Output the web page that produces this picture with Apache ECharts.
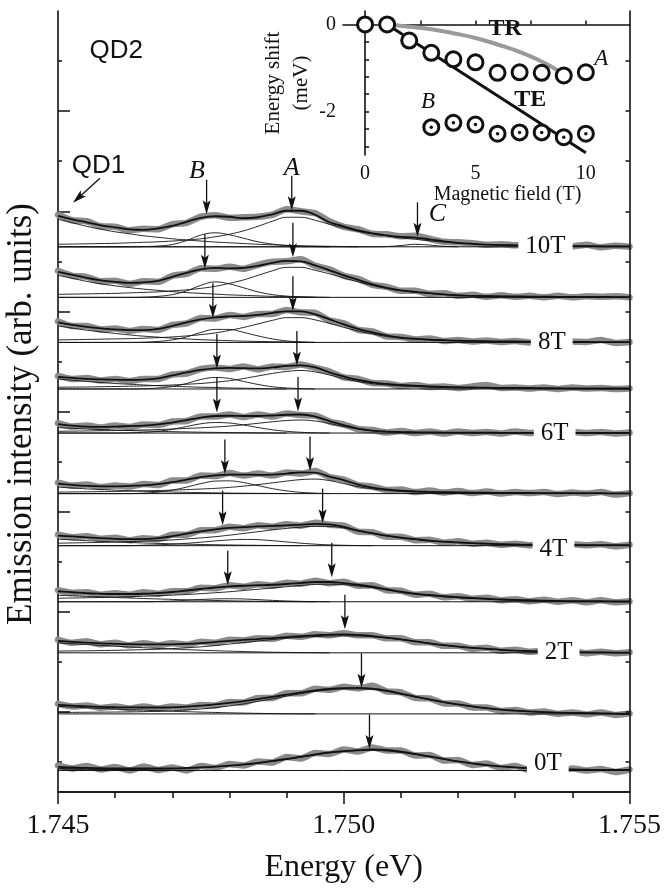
<!DOCTYPE html>
<html>
<head>
<meta charset="utf-8">
<script src="https://cdn.jsdelivr.net/npm/echarts@6/dist/echarts.min.js"></script>
<style>
html, body { margin: 0; padding: 0; background: #fff; }
#chart { width: 664px; height: 889px; }
</style>
</head>
<body>
<div id="chart"></div>
<script>
// Sampling grid of the spectra (eV), 0.25 meV steps
const energies = [1.74500,1.74525,1.74550,1.74575,1.74600,1.74625,1.74650,1.74675,1.74700,1.74725,
  1.74750,1.74775,1.74800,1.74825,1.74850,1.74875,1.74900,1.74925,1.74950,1.74975,
  1.75000,1.75025,1.75050,1.75075,1.75100,1.75125,1.75150,1.75175,1.75200,1.75225,
  1.75250,1.75275,1.75300,1.75325,1.75350,1.75375,1.75400,1.75425,1.75450,1.75475,1.75500];

// Magnetic fields, top to bottom, and the vertical offset of each trace (arb. units)
const fields = ['10T','9T','8T','7T','6T','5T','4T','3T','2T','1T','0T'];
const baselines = [108.9, 98.8, 89.8, 80.5, 71.7, 59.6, 49.2, 38.0, 27.8, 15.6, 4.3];

// ---- 10 T ----
const meas10 = [6.4,5.3,5.1,4.1,4.0,3.3,3.6,3.5,4.5,4.8,6.0,6.3,5.8,5.9,6.0,6.4,7.5,7.1,6.7,5.1,4.0,3.5,2.6,2.5,2.1,2.2,1.6,1.0,0.9,0.7,0.4,0.5,0.3,0.4,0.1,0.3,0.1,0.4,-0.1,0.2,0.0];
const fit10 = [6.2,5.5,4.9,4.3,3.9,3.5,3.4,3.7,4.2,5.0,5.8,6.1,6.0,5.7,5.9,6.5,7.2,7.2,6.4,4.9,4.1,3.3,2.7,2.3,2.0,1.85,1.5,1.1,0.8,0.6,0.45,0.35,0.3,0.25,0.2,0.2,0.15,0.15,0.1,0.1,0.1];
const qd1_10 = [5.5,4.8,4.1,3.5,3.0,2.6,2.2,1.9,1.6,1.35,1.15,0.95,0.8,0.65,0.5,0.4,0.3,0.2,0.15,0.1,0.05,0];
const compB10 = [0,0,0,0,0,0,0.05,0.15,0.45,1.25,2.35,2.8,2.4,1.7,1.0,0.55,0.25,0.1,0.05,0];
const compA10 = [0.5,0.55,0.6,0.65,0.7,0.8,0.9,1.0,1.15,1.35,1.6,2.0,2.5,3.2,4.1,5.1,5.9,5.9,5.3,4.5,3.8,3.1,2.6,2.2,1.8,1.5,1.2,0.95,0.75,0.6,0.45,0.35,0.3,0.25,0.2,0.18,0.15,0.12,0.1,0.1,0.1];
const compC10 = [0,0,0,0,0,0,0,0,0,0,0,0,0,0,0,0,0,0,0,0,0,0,0,0.05,0.25,0.5,0.35,0.1,0];

// ---- 9 T ----
const meas9 = [5.3,4.3,4.1,3.2,3.3,2.7,3.2,3.1,4.3,4.7,5.8,5.7,6.1,5.7,6.5,7.1,7.2,7.6,6.3,5.6,4.3,3.7,2.5,2.1,1.3,1.3,0.7,0.8,0.3,0.5,0.1,0.4,0.1,0.3,0.0,0.3,0.0,0.2,0.1,0.2,0.0];
const fit9 = [5.1,4.5,3.9,3.4,3.1,2.9,3.0,3.3,4.1,4.9,5.6,5.9,5.8,5.9,6.3,6.9,7.3,7.2,6.4,5.4,4.4,3.5,2.6,1.9,1.4,1.1,0.85,0.6,0.4,0.3,0.25,0.2,0.2,0.15,0.15,0.1,0.1,0.1,0.1,0.05,0.05];
const qd1_9 = [4.4,3.8,3.2,2.7,2.3,1.95,1.65,1.4,1.15,0.95,0.8,0.65,0.5,0.4,0.3,0.2,0.15,0.1,0.05,0];
const compB9 = [0,0,0,0,0,0,0.05,0.2,0.55,1.3,2.4,3.1,2.7,1.9,1.1,0.55,0.25,0.1,0];
const compA9 = [0.6,0.65,0.7,0.75,0.8,0.9,1.0,1.1,1.3,1.5,1.8,2.2,2.8,3.5,4.4,5.3,6.0,6.0,5.4,4.7,3.9,3.1,2.4,1.8,1.35,1.05,0.8,0.6,0.45,0.35,0.28,0.22,0.18,0.15,0.12,0.1,0.08,0.07,0.06,0.05,0.05];

// ---- 8 T ----
const meas8 = [4.2,3.3,3.3,2.6,2.8,2.3,2.7,2.5,3.5,3.8,4.9,4.8,5.5,5.1,5.7,5.7,6.5,6.0,5.9,4.4,3.8,2.5,2.2,1.2,1.1,0.6,0.8,0.3,0.5,0.2,0.4,0.1,0.3,0.0,0.4,0.0,0.2,0.1,0.5,-0.1,0.1];
const fit8 = [4.0,3.5,3.1,2.8,2.6,2.45,2.45,2.7,3.3,4.0,4.6,5.0,5.2,5.3,5.5,5.9,6.2,6.2,5.6,4.6,3.6,2.7,2.0,1.4,0.95,0.75,0.55,0.45,0.35,0.3,0.25,0.2,0.2,0.15,0.15,0.1,0.1,0.1,0.05,0.05,0.05];
const qd1_8 = [3.3,2.85,2.45,2.1,1.8,1.5,1.25,1.05,0.85,0.7,0.55,0.45,0.35,0.25,0.2,0.15,0.1,0.05,0];
const compB8 = [0,0,0,0,0,0,0.05,0.2,0.5,1.1,2.0,2.6,2.6,2.0,1.3,0.7,0.3,0.1,0];
const compA8 = [0.5,0.55,0.6,0.65,0.7,0.75,0.85,0.95,1.1,1.3,1.55,1.9,2.4,3.0,3.7,4.4,4.95,4.95,4.5,3.8,3.0,2.3,1.7,1.2,0.85,0.65,0.5,0.4,0.3,0.25,0.2,0.17,0.14,0.12,0.1,0.08,0.07,0.06,0.05,0.05,0.05];

// ---- 7 T ----
const meas7 = [2.6,2.0,2.2,1.7,2.0,1.6,2.0,2.0,2.9,3.1,4.0,4.3,4.0,4.5,3.9,4.5,4.4,4.9,4.2,3.5,2.3,2.0,1.2,1.1,0.6,0.8,0.4,0.5,0.2,0.5,0.8,0.2,0.3,0.1,0.3,0.0,0.3,0.1,0.2,0.0,0.1];
const fit7 = [2.4,2.2,2.0,1.9,1.85,1.8,1.85,2.1,2.7,3.3,3.8,4.1,4.2,4.15,4.1,4.3,4.6,4.7,4.3,3.3,2.5,1.8,1.3,1.0,0.8,0.65,0.5,0.4,0.35,0.3,0.25,0.2,0.2,0.2,0.15,0.15,0.1,0.1,0.1,0.1,0.1];
const qd1_7 = [2.0,1.75,1.5,1.3,1.1,0.95,0.8,0.65,0.55,0.45,0.35,0.3,0.2,0.15,0.1,0.05,0];
const compB7 = [0,0,0,0,0,0,0.05,0.2,0.5,1.1,1.9,2.3,2.1,1.5,0.9,0.45,0.2,0.08,0];
const compA7 = [0.35,0.38,0.4,0.45,0.5,0.55,0.6,0.7,0.8,0.95,1.1,1.35,1.65,2.1,2.6,3.1,3.5,3.7,3.4,2.8,2.1,1.5,1.05,0.8,0.6,0.5,0.4,0.32,0.27,0.23,0.2,0.17,0.15,0.13,0.12,0.1,0.1,0.08,0.08,0.07,0.07];

// ---- 6 T ----
const meas6 = [2.0,1.3,1.5,1.1,1.5,1.2,1.7,1.6,2.3,2.4,3.3,3.3,3.7,3.2,3.7,3.3,3.9,3.6,3.5,2.3,1.7,0.8,0.6,0.1,0.4,0.0,0.3,-0.1,0.3,0.0,0.2,-0.1,0.3,0.0,0.2,-0.2,0.2,0.0,0.2,-0.1,0.1];
const fit6 = [1.8,1.5,1.3,1.25,1.3,1.4,1.5,1.75,2.1,2.6,3.1,3.4,3.45,3.4,3.4,3.5,3.65,3.7,3.3,2.4,1.6,0.9,0.5,0.3,0.2,0.15,0.12,0.1,0.1,0.08,0.08,0.05,0.05,0.05,0.05,0.05,0.05,0.05,0.05,0.05,0.05];
const qd1_6 = [1.1,0.95,0.8,0.7,0.6,0.5,0.42,0.35,0.28,0.22,0.17,0.13,0.1,0.07,0.04,0.02,0];
const compB6 = [0,0,0,0,0,0.05,0.15,0.35,0.75,1.3,1.85,2.1,2.0,1.6,1.1,0.65,0.35,0.15,0.05,0];
const compA6 = [0.35,0.38,0.42,0.46,0.5,0.55,0.62,0.7,0.8,0.92,1.05,1.2,1.4,1.65,1.95,2.25,2.5,2.6,2.4,1.9,1.3,0.8,0.45,0.28,0.18,0.13,0.1,0.08,0.06,0.05,0.05,0.04,0.04,0.03,0.03,0.03,0.02,0.02,0.02,0.02,0.02];

// ---- 5 T ----
const meas5 = [2.2,1.6,1.8,1.3,1.6,1.4,1.9,1.7,2.6,2.6,3.6,3.5,4.1,3.6,4.0,3.6,4.2,4.0,4.5,3.3,2.8,1.7,1.4,0.7,0.8,0.3,0.6,0.2,0.5,0.1,0.4,0.0,0.3,0.1,0.3,-0.1,0.2,0.0,0.3,-0.2,0.1];
const fit5 = [2.0,1.75,1.55,1.45,1.45,1.55,1.65,1.9,2.3,2.8,3.3,3.65,3.8,3.8,3.75,3.8,4.0,4.25,4.2,3.4,2.7,1.8,1.2,0.85,0.6,0.45,0.35,0.3,0.25,0.2,0.18,0.15,0.15,0.12,0.1,0.1,0.1,0.08,0.08,0.05,0.05];
const qd1_5 = [1.3,1.12,0.95,0.82,0.7,0.58,0.48,0.4,0.32,0.25,0.2,0.15,0.11,0.08,0.05,0.03,0];
const compB5 = [0,0,0,0,0,0,0.1,0.3,0.7,1.3,2.0,2.5,2.55,2.2,1.6,1.0,0.55,0.25,0.1,0];
const compA5 = [0.3,0.33,0.36,0.4,0.44,0.49,0.55,0.62,0.7,0.8,0.92,1.05,1.25,1.5,1.8,2.15,2.5,2.8,2.9,2.6,2.0,1.4,0.95,0.65,0.45,0.33,0.26,0.21,0.18,0.15,0.13,0.11,0.1,0.09,0.08,0.07,0.06];

// ---- 4 T ----
const meas4 = [2.2,1.7,1.9,1.4,1.6,1.1,1.5,1.3,2.2,2.2,3.1,3.1,3.8,3.5,4.1,3.8,4.3,4.0,4.6,4.2,4.0,2.8,2.7,1.8,1.8,1.1,1.2,0.6,0.9,0.4,0.6,0.2,0.4,0.1,0.4,0.0,0.3,0.1,0.3,-0.1,0.2];
const fit4 = [2.0,1.85,1.65,1.5,1.35,1.3,1.3,1.5,1.9,2.4,2.85,3.25,3.55,3.7,3.85,3.95,4.05,4.2,4.35,4.25,3.75,3.0,2.5,2.0,1.6,1.3,1.0,0.8,0.65,0.5,0.4,0.3,0.25,0.2,0.2,0.15,0.15,0.1,0.1,0.1,0.1];
const qd1_4 = [1.3,1.15,1.0,0.87,0.75,0.64,0.54,0.45,0.37,0.3,0.24,0.19,0.14,0.1,0.07,0.04,0.02,0];
const compB4 = [0,0,0,0,0,0,0.1,0.18,0.3,0.48,0.7,0.95,1.15,1.25,1.2,1.0,0.75,0.5,0.3,0.17,0.08,0.03,0];
const compA4 = [0.5,0.55,0.6,0.66,0.72,0.8,0.9,1.0,1.15,1.35,1.55,1.8,2.1,2.45,2.8,3.15,3.45,3.7,3.85,3.85,3.55,2.95,2.45,1.95,1.55,1.25,0.95,0.78,0.62,0.48,0.38,0.3,0.24,0.19,0.16,0.13,0.11,0.1,0.09,0.08,0.07];

// ---- 3 T ----
const meas3 = [2.3,1.8,1.9,1.4,1.7,1.4,1.9,1.6,2.1,2.1,2.8,2.7,3.3,3.0,3.5,3.2,3.8,3.6,4.2,3.7,4.0,3.2,3.3,2.3,2.2,1.4,1.6,0.9,1.1,0.6,0.8,0.3,0.5,0.1,0.4,0.0,0.3,-0.1,0.3,-0.1,0.1];
const fit3 = [2.1,1.9,1.7,1.6,1.55,1.55,1.6,1.75,1.95,2.25,2.55,2.85,3.05,3.2,3.3,3.4,3.55,3.75,3.95,3.95,3.7,3.4,3.0,2.5,2.0,1.6,1.35,1.1,0.9,0.75,0.6,0.45,0.35,0.3,0.2,0.15,0.1,0.1,0.1,0.05,0.05];
const qd1_3 = [1.3,1.18,1.06,0.95,0.85,0.75,0.65,0.56,0.47,0.39,0.32,0.25,0.19,0.14,0.1,0.07,0.04,0.02,0];
const compB3 = [0,0,0,0,0,0,0,0.05,0.15,0.3,0.45,0.57,0.6,0.55,0.42,0.28,0.16,0.08,0.03,0];
const compA3 = [0.7,0.75,0.8,0.87,0.94,1.02,1.1,1.2,1.32,1.46,1.62,1.8,2.0,2.25,2.5,2.75,3.0,3.25,3.45,3.5,3.4,3.15,2.8,2.35,1.9,1.55,1.25,1.0,0.82,0.67,0.55,0.43,0.34,0.27,0.21,0.16,0.12,0.1,0.08,0.07,0.06];

// ---- 2 T ----
const meas2 = [2.6,2.0,2.3,1.7,2.0,1.5,1.9,1.5,1.9,1.6,2.2,2.0,2.6,2.5,2.9,2.8,3.4,3.2,3.7,3.5,3.9,3.5,3.5,2.9,2.9,2.1,2.1,1.4,1.4,0.8,1.0,0.4,0.6,0.2,0.4,0.0,0.3,-0.1,0.2,-0.1,0.1];
const fit2 = [2.4,2.2,2.05,1.9,1.8,1.72,1.7,1.68,1.7,1.8,1.95,2.15,2.4,2.6,2.75,2.95,3.15,3.35,3.5,3.65,3.7,3.6,3.35,3.05,2.7,2.3,1.9,1.55,1.25,1.0,0.8,0.6,0.45,0.35,0.25,0.2,0.15,0.1,0.1,0.05,0.05];
const qd1_2 = [2.0,1.82,1.65,1.48,1.32,1.17,1.02,0.88,0.75,0.63,0.52,0.42,0.33,0.25,0.18,0.12,0.08,0.05,0.02,0];
const compA2 = [0.35,0.38,0.41,0.45,0.5,0.56,0.63,0.72,0.85,1.0,1.2,1.45,1.75,2.05,2.35,2.65,2.9,3.1,3.25,3.35,3.4,3.35,3.2,2.95,2.65,2.3,1.9,1.55,1.25,1.0,0.8,0.6,0.45,0.35,0.25,0.2,0.15,0.1,0.1,0.05,0.05];

// ---- 1 T ----
const meas1 = [2.0,1.5,1.7,1.2,1.5,1.1,1.5,1.1,1.5,1.3,1.8,1.7,2.4,2.3,3.2,3.2,4.1,4.1,5.0,4.8,5.4,5.1,5.6,4.5,4.3,3.2,3.1,2.1,2.1,1.3,1.3,0.6,0.8,0.3,0.5,0.0,0.3,-0.1,0.3,-0.2,0.1];
const fit1 = [1.8,1.65,1.5,1.4,1.33,1.3,1.28,1.28,1.32,1.45,1.65,1.9,2.2,2.55,2.95,3.4,3.85,4.3,4.7,5.0,5.15,5.2,5.05,4.65,4.05,3.45,2.9,2.35,1.9,1.5,1.15,0.85,0.65,0.5,0.35,0.25,0.2,0.15,0.1,0.05,0];
const qd1_1 = [1.5,1.36,1.22,1.09,0.97,0.85,0.74,0.63,0.53,0.44,0.36,0.29,0.22,0.16,0.11,0.07,0.04,0.02,0];
const compA1 = [0.3,0.31,0.33,0.35,0.37,0.4,0.45,0.52,0.62,0.78,0.98,1.25,1.6,2.0,2.5,3.0,3.55,4.05,4.5,4.8,5.0,5.0,4.85,4.5,3.95,3.4,2.85,2.3,1.85,1.45,1.12,0.85,0.65,0.5,0.35,0.25,0.2,0.15,0.1,0.05,0];

// ---- 0 T ----
const meas0 = [1.0,0.4,0.9,0.2,0.7,0.0,0.8,0.1,0.6,0.0,0.9,0.5,1.3,1.0,1.8,1.6,2.7,2.4,3.5,3.3,4.2,3.8,4.6,4.0,4.0,3.0,3.1,2.0,2.1,1.1,1.4,0.5,0.9,0.1,0.6,-0.2,0.4,0.0,0.3,-0.3,0.2];
const fit0 = [0.7,0.6,0.5,0.45,0.4,0.4,0.4,0.4,0.42,0.5,0.6,0.75,0.95,1.2,1.5,1.9,2.3,2.75,3.2,3.6,3.85,4.05,4.2,4.1,3.75,3.3,2.8,2.3,1.8,1.4,1.05,0.8,0.6,0.45,0.35,0.25,0.2,0.15,0.1,0.1,0.1];
const qd1_0 = [0.4,0.35,0.3,0.25,0.2,0.16,0.12,0.08,0.05,0.02,0];
const compA0 = [0.3,0.27,0.25,0.23,0.22,0.23,0.25,0.3,0.37,0.46,0.58,0.73,0.92,1.15,1.45,1.8,2.2,2.65,3.1,3.5,3.78,3.95,4.0,3.9,3.6,3.2,2.75,2.25,1.8,1.4,1.05,0.8,0.6,0.45,0.35,0.25,0.2,0.15,0.1,0.1,0.1];

// Peak markers: energy (eV) and height above the trace baseline of the arrow tip
const peakAEnergy = [1.74909,1.74911,1.74911,1.74918,1.74920,1.74941,1.74963,1.74979,1.75002,1.75031,1.75045];
const peakATip    = [7.3, 8.0, 6.3, 4.7, 4.3, 4.5, 4.5, 4.9, 4.7, 5.2, 4.3];
const peakBEnergy = [1.74760,1.74757,1.74771,1.74778,1.74778,1.74792,1.74788,1.74797];
const peakBTip    = [6.5, 5.7, 4.9, 4.1, 4.1, 3.9, 4.1, 3.3];
const peakCEnergy = 1.75129, peakCTip = 2.0;

// Field labels on the right of the traces
const labelNames  = ['10T','8T','6T','4T','2T','0T'];
const labelTrace  = [0, 2, 4, 6, 8, 10];
const labelEnergy = [1.75353, 1.75364, 1.75369, 1.75367, 1.75376, 1.75357];
const labelLift   = [0, 0, 0, -0.8, 0, 1.5];

// Inset: energy shift of lines A and B versus magnetic field
const fieldA = [0,1,2,3,4,5,6,7,8,9,10];
const shiftA = [0, 0, -0.37, -0.65, -0.80, -0.87, -1.11, -1.10, -1.11, -1.17, -1.10];
const fieldB = [3,4,5,6,7,8,9,10];
const shiftB = [-2.36, -2.26, -2.30, -2.51, -2.48, -2.48, -2.59, -2.51];
const trField = [1, 2, 3, 4, 5, 6, 7, 8, 8.7];
const trShift = [0, -0.05, -0.11, -0.2, -0.31, -0.46, -0.63, -0.85, -1.05];
const teField = [1, 10];
const teShift = [0, -2.95];

const SERIF = 'Liberation Serif, Times New Roman, serif';
const SANS = 'Liberation Sans, Arial, sans-serif';
const INK = '#111';
const ARROW_LEN = 6.9;   // arrow shaft length in intensity units

const traces = [
  { meas: meas10, fit: fit10, parts: [qd1_10, compB10, compA10, compC10] },
  { meas: meas9,  fit: fit9,  parts: [qd1_9, compB9, compA9] },
  { meas: meas8,  fit: fit8,  parts: [qd1_8, compB8, compA8] },
  { meas: meas7,  fit: fit7,  parts: [qd1_7, compB7, compA7] },
  { meas: meas6,  fit: fit6,  parts: [qd1_6, compB6, compA6] },
  { meas: meas5,  fit: fit5,  parts: [qd1_5, compB5, compA5] },
  { meas: meas4,  fit: fit4,  parts: [qd1_4, compB4, compA4] },
  { meas: meas3,  fit: fit3,  parts: [qd1_3, compB3, compA3] },
  { meas: meas2,  fit: fit2,  parts: [qd1_2, compA2] },
  { meas: meas1,  fit: fit1,  parts: [qd1_1, compA1] },
  { meas: meas0,  fit: fit0,  parts: [qd1_0, compA0] }
];

function shifted(arr, base) {
  return arr.map((v, i) => [energies[i], +(base + v).toFixed(3)]);
}

const series = [];
traces.forEach((t, k) => {
  const base = baselines[k];
  series.push({
    type: 'line', name: fields[k] + ' data', data: shifted(t.meas, base),
    symbol: 'none', smooth: 0.2, z: 2, silent: true,
    lineStyle: { color: '#8b8b8b', width: 6.5, join: 'round', cap: 'round' }
  });
  series.push({
    type: 'line', data: [[energies[0], base], [energies[energies.length - 1], base]],
    symbol: 'none', z: 3, silent: true, lineStyle: { color: INK, width: 1 }
  });
  t.parts.forEach(p => series.push({
    type: 'line', data: shifted(p, base), symbol: 'none', smooth: 0.4, z: 3, silent: true,
    lineStyle: { color: INK, width: 0.9 }
  }));
  series.push({
    type: 'line', name: fields[k] + ' fit', data: shifted(t.fit, base),
    symbol: 'none', smooth: 0.4, z: 4, silent: true,
    lineStyle: { color: INK, width: 1.8 }
  });
});

// Arrows pointing at the A, B and C lines, plus the QD1 pointer
const arrowRows = [];
peakAEnergy.forEach((e, k) => arrowRows.push([e, baselines[k] + peakATip[k] + ARROW_LEN, e, baselines[k] + peakATip[k]]));
peakBEnergy.forEach((e, k) => arrowRows.push([e, baselines[k] + peakBTip[k] + ARROW_LEN, e, baselines[k] + peakBTip[k]]));
arrowRows.push([peakCEnergy, baselines[0] + peakCTip + ARROW_LEN, peakCEnergy, baselines[0] + peakCTip]);
const qd1Pointer = [1.745734, 122.6, 1.745262, 117.7];
arrowRows.push(qd1Pointer);

function renderArrow(params, api) {
  const a = api.coord([api.value(0), api.value(1)]);
  const b = api.coord([api.value(2), api.value(3)]);
  const dx = b[0] - a[0], dy = b[1] - a[1];
  const L = Math.hypot(dx, dy) || 1;
  const ux = dx / L, uy = dy / L, nx = -uy, ny = ux;
  const hl = 14, hw = 4;
  const bx = b[0] - ux * hl, by = b[1] - uy * hl;
  return {
    type: 'group',
    children: [
      { type: 'line', shape: { x1: a[0], y1: a[1], x2: b[0] - ux * 9, y2: b[1] - uy * 9 },
        style: { stroke: INK, lineWidth: 1.3 } },
      { type: 'polygon', shape: { points: [[b[0], b[1]], [bx + nx * hw, by + ny * hw], [b[0] - ux * 11, b[1] - uy * 11], [bx - nx * hw, by - ny * hw]] },
        style: { fill: INK } }
    ]
  };
}
series.push({
  type: 'custom', renderItem: renderArrow, data: arrowRows, z: 6, silent: true, clip: false,
  encode: { x: [0, 2], y: [1, 3] }
});

const hiddenDot = { color: 'rgba(0,0,0,0)', opacity: 1 };

// Field labels with a white box that interrupts the trace
series.push({
  type: 'scatter', z: 10, silent: true, symbolSize: 1, itemStyle: hiddenDot,
  data: labelNames.map((n, i) => ({ name: n, value: [labelEnergy[i], baselines[labelTrace[i]] + labelLift[i]] })),
  label: { show: true, position: 'inside', formatter: '{b}', fontFamily: SERIF, fontSize: 25,
           color: INK, backgroundColor: '#fff', padding: [1, 7], opacity: 1 }
});

// Letters naming the lines, and the dot names
const noteNames  = ['A', 'B', 'C'];
const noteEnergy = [1.74909, 1.74743, 1.75164];
const noteLevel  = [124.6, 124.0, 115.4];
series.push({
  type: 'scatter', z: 10, silent: true, symbolSize: 1, itemStyle: hiddenDot,
  data: noteNames.map((n, i) => ({ name: n, value: [noteEnergy[i], noteLevel[i]] })),
  label: { show: true, position: 'inside', formatter: '{b}', fontFamily: SERIF, fontStyle: 'italic',
           fontSize: 26, color: INK, opacity: 1 }
});
const dotNames  = ['QD1', 'QD2'];
const dotEnergy = [1.74571, 1.74602];
const dotLevel  = [125.0, 148.0];
series.push({
  type: 'scatter', z: 10, silent: true, symbolSize: 1, itemStyle: hiddenDot,
  data: dotNames.map((n, i) => ({ name: n, value: [dotEnergy[i], dotLevel[i]] })),
  label: { show: true, position: 'inside', formatter: '{b}', fontFamily: SANS, fontSize: 26, color: INK, opacity: 1 }
});

// ---- inset ----
series.push({
  type: 'line', xAxisIndex: 2, yAxisIndex: 3, data: trField.map((f, i) => [f, trShift[i]]),
  symbol: 'none', smooth: true, z: 20, silent: true, lineStyle: { color: '#9a9a9a', width: 4 }
});
series.push({
  type: 'line', xAxisIndex: 2, yAxisIndex: 3, data: teField.map((f, i) => [f, teShift[i]]),
  symbol: 'none', z: 20, silent: true, lineStyle: { color: INK, width: 3 }
});
series.push({
  type: 'scatter', xAxisIndex: 2, yAxisIndex: 3, data: fieldA.map((f, i) => [f, shiftA[i]]),
  symbol: 'circle', symbolSize: 15, z: 21, silent: true,
  itemStyle: { color: '#fff', borderColor: INK, borderWidth: 3, opacity: 1 }
});
series.push({
  type: 'scatter', xAxisIndex: 2, yAxisIndex: 3, data: fieldB.map((f, i) => [f, shiftB[i]]),
  symbol: 'circle', symbolSize: 15, z: 21, silent: true,
  itemStyle: { color: '#fff', borderColor: INK, borderWidth: 3, opacity: 1 }
});
series.push({
  type: 'scatter', xAxisIndex: 2, yAxisIndex: 3, data: fieldB.map((f, i) => [f, shiftB[i]]),
  symbol: 'circle', symbolSize: 3.5, z: 22, silent: true, itemStyle: { color: INK, opacity: 1 }
});
const insetNotes = [
  { name: 'TR', value: [6.35, -0.09], bold: true },
  { name: 'TE', value: [7.48, -1.72], bold: true },
  { name: 'A', value: [10.7, -0.8], bold: false },
  { name: 'B', value: [2.85, -1.79], bold: false }
];
series.push({
  type: 'scatter', xAxisIndex: 2, yAxisIndex: 3, z: 23, silent: true, symbolSize: 1,
  itemStyle: hiddenDot,
  data: insetNotes.map(n => ({
    name: n.name, value: n.value,
    label: n.bold ? { fontWeight: 'bold', fontStyle: 'normal', fontSize: 24 } : { fontStyle: 'italic', fontSize: 23 }
  })),
  label: { show: true, position: 'inside', formatter: '{b}', fontFamily: SERIF, color: INK, opacity: 1 }
});

const axisLine = { show: true, lineStyle: { color: INK, width: 1.6 } };
const tickStyle = { color: INK, width: 1.5 };

const option = {
  animation: false,
  backgroundColor: '#fff',
  textStyle: { fontFamily: SERIF, color: INK },
  grid: [
    { left: 58, right: 34, top: 11, bottom: 86 },
    { left: 343, right: 34, top: 11, height: 144, show: true, backgroundColor: '#fff', borderWidth: 0, z: 15 }
  ],
  graphic: [
    { type: 'text', x: 22, y: 414, rotation: Math.PI / 2, z: 30,
      style: { text: 'Emission intensity (arb. units)', fill: INK, font: '35px ' + SERIF,
               textAlign: 'center', textVerticalAlign: 'middle' } }
  ],
  xAxis: [
    { gridIndex: 0, type: 'value', position: 'bottom', min: 1.745, max: 1.755, interval: 0.005,
      axisLine, axisTick: { inside: false, length: 12, lineStyle: tickStyle },
      minorTick: { show: true, splitNumber: 5, length: 6, lineStyle: tickStyle },
      splitLine: { show: false }, minorSplitLine: { show: false },
      axisLabel: { formatter: v => v.toFixed(3), fontSize: 28, color: INK, margin: 20, fontFamily: SERIF },
      name: 'Energy (eV)', nameLocation: 'middle', nameGap: 60,
      nameTextStyle: { fontSize: 32, color: INK, fontFamily: SERIF } },
    { gridIndex: 0, type: 'value', position: 'top', min: 1.745, max: 1.755,
      axisLine, axisTick: { inside: true, length: 5, lineStyle: tickStyle, customValues: [1.746, 1.747, 1.748, 1.749] },
      axisLabel: { show: false }, splitLine: { show: false } },
    { gridIndex: 1, type: 'value', position: 'bottom', min: -1, max: 12, z: 16,
      axisLine, axisTick: { inside: true, length: 4, lineStyle: tickStyle, customValues: [0, 2.5, 5, 7.5, 10] },
      axisLabel: { customValues: [0, 5, 10], fontSize: 20, color: INK, margin: 9, fontFamily: SERIF },
      splitLine: { show: false },
      name: 'Magnetic field (T)', nameLocation: 'middle', nameGap: 24,
      nameTextStyle: { fontSize: 20, color: INK, fontFamily: SERIF, padding: [0, 0, 0, 42] } }
  ],
  yAxis: [
    { gridIndex: 0, type: 'value', position: 'left', min: 0, max: 156,
      axisLine, axisTick: { inside: true, length: 12, lineStyle: tickStyle, customValues: [16, 36, 56, 76, 96, 116, 136] },
      axisLabel: { show: false }, splitLine: { show: false } },
    { gridIndex: 0, type: 'value', position: 'left', min: 0, max: 156,
      axisLine: { show: false }, axisTick: { inside: true, length: 4, lineStyle: tickStyle, customValues: [6, 26, 46, 66, 86, 106, 126, 146] },
      axisLabel: { show: false }, splitLine: { show: false } },
    { gridIndex: 0, type: 'value', position: 'right', min: 0, max: 156, z: 20,
      axisLine, axisTick: { inside: true, length: 4, lineStyle: tickStyle, customValues: [6, 16, 26, 36, 46, 56, 66, 76, 86, 96, 106, 116, 126, 136, 146] },
      axisLabel: { show: false }, splitLine: { show: false } },
    { gridIndex: 1, type: 'value', position: 'left', min: -3, max: 0.31, z: 16,
      axisLine, axisTick: { inside: true, length: 4, lineStyle: tickStyle, customValues: [0, -0.4, -0.8, -1.2, -1.6, -2, -2.4, -2.8] },
      axisLabel: { customValues: [0, -2], fontSize: 20, color: INK, margin: 7, fontFamily: SERIF },
      splitLine: { show: false },
      name: 'Energy shift\n(meV)', nameLocation: 'middle', nameGap: 19, nameRotate: 90,
      nameTextStyle: { fontSize: 21, lineHeight: 28, color: INK, fontFamily: SERIF } }
  ],
  series
};

const chart = echarts.init(document.getElementById('chart'), null, { renderer: 'canvas' });
chart.setOption(option);
</script>
</body>
</html>
